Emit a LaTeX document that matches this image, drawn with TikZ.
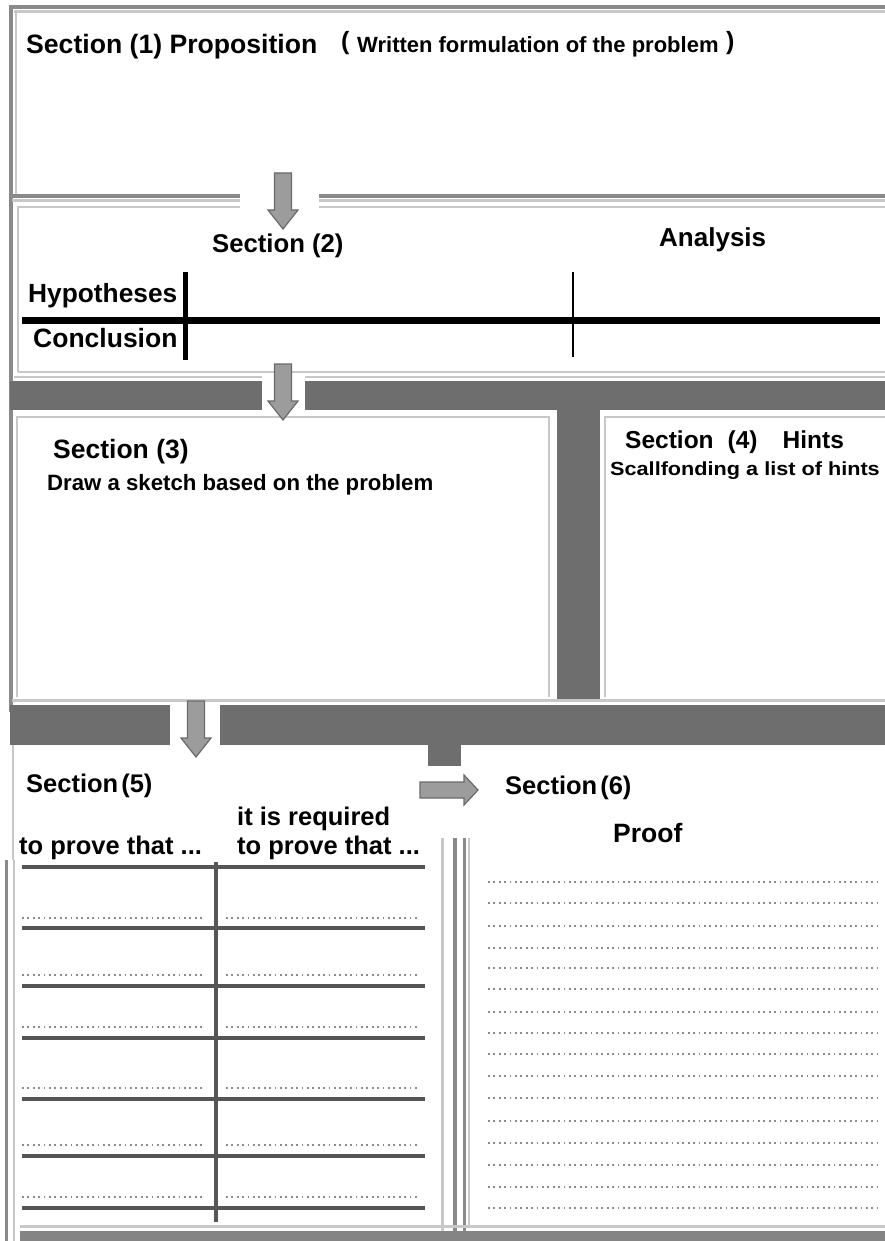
\documentclass[tikz,border=0pt]{standalone}
\usepackage{fontspec}
\setmainfont{Liberation Sans}
\newfontfamily\widef[FakeStretch=1.14]{Liberation Sans}
\definecolor{bandgray}{HTML}{6E6E6E}
\definecolor{linegray}{HTML}{8A8A8A}
\definecolor{lightgray2}{HTML}{C8C8C8}
\definecolor{arrowfill}{HTML}{9C9C9C}
\definecolor{arrowdraw}{HTML}{6A6A6A}
\definecolor{dotgray}{HTML}{8C8C8C}
\definecolor{tableline}{HTML}{555555}
\newcommand\fsz[1]{\fontsize{#1}{#1}\selectfont\bfseries}
\begin{document}
\begin{tikzpicture}[x=1pt,y=-1pt,
  lbl/.style={anchor=base west,inner sep=0pt,text=black},
  band/.style={fill=bandgray},
  frameline/.style={linegray,line width=4pt},
  lightline/.style={lightgray2,line width=2.5pt},
  tline/.style={tableline,line width=3.5pt},
  dotline/.style={dotgray,line width=2pt,dash pattern=on 1.8pt off 3.6pt},
  arrowshape/.style={fill=arrowfill,draw=arrowdraw,line width=1.2pt,line join=miter},
  downarr/.pic={\path[arrowshape] (-8.5,0) -- (8.5,0) -- (8.5,37) -- (15,37) -- (0,56) -- (-15,37) -- (-8.5,37) -- cycle;},
  rightarr/.pic={\path[arrowshape] (0,-8) -- (44,-8) -- (44,-15) -- (58,0) -- (44,15) -- (44,8) -- (0,8) -- cycle;}
]
\fill[white] (0,0) rectangle (885,1241);
\useasboundingbox (0,0) rectangle (885,1241);

% ---------- outer frame / section 1 ----------
\draw[frameline] (9,7) -- (885,7);
\draw[lightline] (14,11.5) -- (885,11.5);
\draw[frameline] (11,5) -- (11,712);
\draw[lightline] (16,11) -- (16,196);
\draw[linegray,line width=3.5pt] (12,196) -- (240,196) (319,196) -- (885,196);
\draw[lightgray2,line width=3pt] (12,201) -- (240,201) (319,201) -- (885,201);

% ---------- section 2 ----------
\draw[lightline] (18,372) -- (18,207) -- (240,207) (319,207) -- (885,207);
\draw[lightline] (18,372) -- (885,372);
\draw[black,line width=7pt] (22,320) -- (880,320);
\draw[black,line width=5pt] (185,272) -- (185,360);
\draw[black,line width=2.5pt] (573,272) -- (573,357);

% ---------- band 1 ----------
\draw[lightline] (14,377) -- (262,377) (305,377) -- (885,377);
\fill[band] (10,381) rectangle (262,410);
\fill[band] (305,381) rectangle (885,410);

% ---------- sections 3 and 4 ----------
\draw[lightline] (17,697) -- (17,417) -- (549,417) -- (549,697);
\fill[band] (557,410) rectangle (600,700);
\draw[lightline] (605,697) -- (605,417) -- (885,417);
\draw[lightgray2,line width=3pt] (12,700) -- (885,700);

% ---------- band 2 ----------
\fill[band] (10,705) rectangle (170,745);
\fill[band] (220,705) rectangle (885,745);
\fill[band] (428,745) rectangle (461,766);

% ---------- section 5 / 6 frames ----------
\draw[lightgray2,line width=2pt] (13,745) -- (13,860);
\draw[linegray,line width=3pt] (6,860) -- (6,1241);
\draw[lightgray2,line width=2.5pt] (14,860) -- (14,1241);
\draw[lightgray2,line width=3pt] (442,838) -- (442,1241);
\draw[linegray,line width=4pt] (455,838) -- (455,1241);
\draw[linegray,line width=3pt] (464,838) -- (464,1241);
\draw[lightgray2,line width=2pt] (469,838) -- (469,1228);
\draw[lightgray2,line width=3pt] (20,1226) -- (885,1226);
\fill[bandgray!85] (20,1231) rectangle (885,1241);

% table lines of section 5
\foreach \yy in {867,928,986,1038,1099,1156,1208}
  \draw[tline] (22,\yy) -- (425,\yy);
\draw[tline] (216,862) -- (216,1222);
\foreach \yy in {918,975,1027,1088,1145,1197} {
  \draw[dotline] (22,\yy) -- (205,\yy);
  \draw[dotline] (226,\yy) -- (418,\yy);
}
% dotted lines of section 6
\foreach \yy in {882,903,926,948,968,989,1012,1033,1054,1076,1098,1121,1143,1165,1187,1208}
  \draw[dotline] (488,\yy) -- (877,\yy);

% ---------- arrows ----------
\pic at (283,173) {downarr};
\pic at (283,364) {downarr};
\pic at (196,701) {downarr};
\pic at (420,790) {rightarr};

% ---------- texts ----------
\node[lbl] (s1) at (26,54) {\fsz{26.6}Section (1) Proposition};
\node[lbl] (p1) at (341,50) {\fsz{25}(};
\node[lbl] (s1b) at (357,53) {\fsz{22}Written formulation of the problem};
\node[lbl] (p2) at (726,50) {\fsz{25})};

\node[lbl] (s2) at (212,253) {\fsz{25.7}Section (2)};
\node[lbl] (an) at (659,247) {\fsz{26}Analysis};
\node[lbl] (hy) at (28,302) {\fsz{26.3}Hypotheses};
\node[lbl] (co) at (33,347) {\fsz{26.5}Conclusion};

\node[lbl] (s3) at (53,458) {\fsz{26.5}Section (3)};
\node[lbl] (s3b) at (47,490) {\fsz{22.2}Draw a sketch based on the problem};

\node[lbl] (s4) at (625,448) {\fsz{24.5}Section\hspace{14pt}(4)\hspace{25pt}Hints};
\node[lbl] (s4b) at (610,475) {\widef\fsz{19}Scallfonding a list of hints};

\node[lbl] (s5) at (26,792) {\fsz{25.5}Section\hspace{3pt}(5)};
\node[lbl] (s6) at (505,794) {\fsz{25.5}Section\hspace{3pt}(6)};
\node[lbl] (req) at (237,825) {\fsz{25.5}it is required};
\node[lbl,fill=white,inner sep=1pt] (tp1) at (18,854) {\fsz{25.5}to prove that ...};
\node[lbl] (tp2) at (237,854) {\fsz{25.5}to prove that ...};
\node[lbl] (pr) at (613,842) {\fsz{26.5}Proof};
\end{tikzpicture}
\end{document}
